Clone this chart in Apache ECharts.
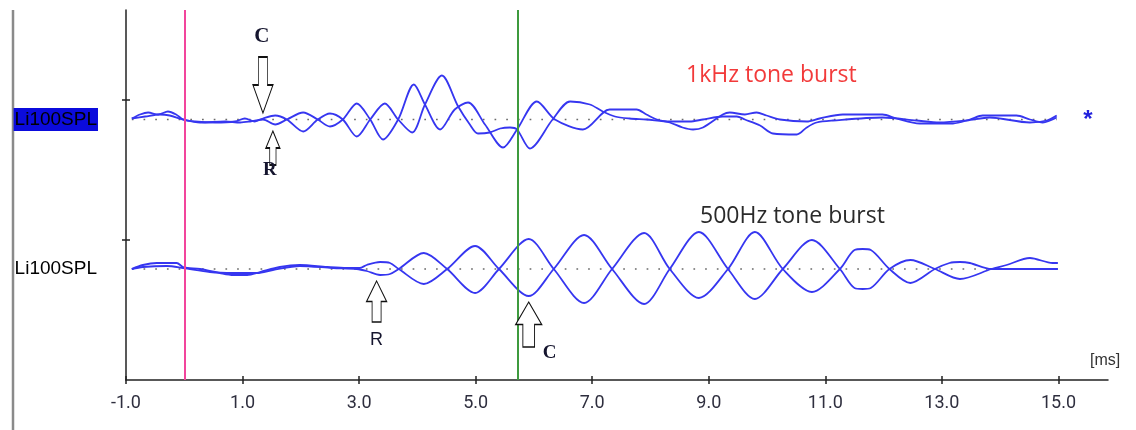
<!DOCTYPE html>
<html>
<head>
<meta charset="utf-8">
<title>tone burst</title>
<script src="https://cdn.jsdelivr.net/npm/echarts@6/dist/echarts.min.js"></script>
<style>
  html, body { margin: 0; padding: 0; background: #fff; }
  #chart { width: 1136px; height: 430px; }
</style>
</head>
<body>
<div id="chart"></div>
<script>
// x 轴刻度 (ms)
const xTicks = [-1, 1, 3, 5, 7, 9, 11, 13, 15];
const markerTimes = [0, 5.72]; // 粉线 / 绿线
const channelNames = ['Li100SPL', 'Li100SPL'];
const burstNames = ['1kHz tone burst', '500Hz tone burst'];

// 1kHz 两条曲线 [ms, 幅值]
const k1TraceA = [
  [-0.90, 1], [-0.76, 5], [-0.62, 7], [-0.45, 5], [-0.28, 8], [-0.14, 5], [-0.02, 0],
  [0.18, -2], [0.53, -3], [0.87, -2], [1.04, 1], [1.21, -2], [1.35, 1], [1.56, 4],
  [1.76, 0], [2.04, -12], [2.29, 0], [2.50, 6], [2.72, 0], [2.96, -17], [3.19, 0],
  [3.44, 16], [3.67, 0], [3.91, -13], [4.13, 15], [4.42, 44], [4.70, 13], [4.90, -5],
  [5.04, -14], [5.24, -13], [5.42, -9], [5.59, -8], [5.71, -10], [5.93, -29], [6.32, 0],
  [6.62, 18], [6.96, 15], [7.18, 8], [7.39, 3], [7.64, 1], [7.93, 0], [8.33, -2],
  [8.67, -2], [8.90, 0], [9.24, 3], [9.48, 3], [9.62, 0], [9.88, -6], [10.10, -14],
  [10.51, -15], [10.68, -8], [10.85, -3], [11.13, -1], [11.98, 2], [12.56, -1],
  [12.96, -3], [13.43, -1], [13.82, 2], [14.51, -3], [14.80, -1], [14.97, 4]
];
const k1TraceB = [
  [-0.90, 1], [-0.67, 3], [-0.42, 5], [-0.25, 4], [-0.02, 0], [0.27, -3], [0.70, -2],
  [0.96, -3], [1.13, -2], [1.35, 0], [1.56, -5], [1.76, 0], [2.04, 7], [2.29, 0],
  [2.50, -7], [2.72, 0], [2.96, 16], [3.19, 0], [3.41, -20], [3.67, 0], [3.94, 35],
  [4.13, 15], [4.39, -10], [4.64, 10], [4.87, 17], [5.16, -5], [5.47, -28], [5.71, -10],
  [6.05, 18], [6.36, 0], [6.84, -10], [7.30, 10], [7.76, 10], [7.93, 5], [8.11, 0],
  [8.33, -3], [8.55, -8], [8.73, -10], [8.90, -8], [9.24, 5], [9.36, 7], [9.62, 5],
  [9.82, 7], [9.99, 4], [10.22, 0], [10.68, -2], [10.90, 1], [11.30, 5], [11.98, 5],
  [12.22, 1], [12.62, -4], [13.19, -4], [13.48, 0], [13.70, 4], [14.28, 4], [14.51, 0],
  [14.73, -3], [14.97, 2]
];

// 500Hz 两条曲线 [ms, 幅值]
const h500TraceA = [
  [-0.90, 0], [-0.71, 4], [-0.47, 6], [-0.13, 6], [-0.02, 2], [0.27, 0], [0.61, -4],
  [0.84, -6], [1.08, -6], [1.30, -3], [1.64, 2], [1.98, 4], [2.45, 2], [2.79, 1],
  [3.01, 1], [3.13, 4], [3.36, 7], [3.53, 6], [3.68, 0], [4.11, -15], [4.51, 0],
  [4.99, 23], [5.40, 0], [5.91, -27], [6.34, 0], [6.86, 34], [7.34, 0], [7.89, -35],
  [8.33, 0], [8.83, 37], [9.33, 0], [9.79, -30], [10.27, 0], [10.77, 29], [11.25, 0],
  [11.50, -19], [11.64, -20], [11.78, -19], [12.10, 0], [12.46, 9], [12.88, 0],
  [13.31, -10], [13.85, 0], [14.11, 4], [14.51, 11], [14.90, 6], [14.99, 6]
];
const h500TraceB = [
  [-0.90, 0], [-0.71, 2], [-0.30, 3], [-0.02, 1], [0.44, -3], [0.84, -4], [1.25, -4],
  [1.52, -1], [1.98, 3], [2.55, 1], [2.96, 0], [3.13, -2], [3.36, -6], [3.53, -5],
  [3.68, 0], [4.11, 16], [4.51, 0], [4.99, -24], [5.40, 0], [5.91, 30], [6.34, 0],
  [6.86, -34], [7.34, 0], [7.89, 36], [8.33, 0], [8.83, -29], [9.33, 0], [9.79, 37],
  [10.27, 0], [10.77, -23], [11.25, 0], [11.50, 19], [11.64, 20], [11.78, 19], [12.10, 0],
  [12.46, -14], [12.88, 0], [13.13, 6], [13.31, 7], [13.48, 6], [13.85, 0], [14.11, 0],
  [14.51, 0], [14.99, 0]
];

const traceColor = '#3636f0';
const arrowUp = 'path://M10,0 L20,10 L14.5,10 L14.5,20 L5.5,20 L5.5,10 L0,10 Z';
const arrowDown = 'path://M5.5,0 L14.5,0 L14.5,10 L20,10 L10,20 L0,10 L5.5,10 Z';
const arrowStyle = { color: '#fff', borderColor: '#111', borderWidth: 1.2 };

function letter(text, coord, font) {
  return {
    coord: coord,
    symbol: 'circle',
    symbolSize: 0,
    label: {
      show: true,
      position: 'inside',
      formatter: text,
      color: '#15152e',
      fontFamily: font.family,
      fontWeight: font.weight,
      fontSize: font.size
    }
  };
}

function traceSeries(data, yIdx, marks) {
  return {
    type: 'line',
    data: data,
    yAxisIndex: yIdx,
    showSymbol: false,
    smooth: 0.3,
    silent: true,
    lineStyle: { color: traceColor, width: 1.8 },
    markPoint: marks ? { silent: true, data: marks } : undefined,
    z: 3
  };
}

function baseline(trace, yIdx) {
  const first = trace[0][0];
  const last = trace[trace.length - 1][0];
  return {
    type: 'line',
    data: [[first, 0], [last, 0]],
    yAxisIndex: yIdx,
    showSymbol: false,
    silent: true,
    lineStyle: { color: '#6a6a6a', width: 1.7, type: [1.7, 10] },
    z: 1
  };
}

const serif = { family: 'Liberation Serif', weight: 'bold', size: 21 };
const serifSm = { family: 'Liberation Serif', weight: 'bold', size: 19 };
const sans = { family: 'Liberation Sans', weight: 'normal', size: 18 };

const myChart = echarts.init(document.getElementById('chart'), null, { renderer: 'canvas' });
const chartOption = {
  animation: false,
  grid: { left: 126, right: 28, top: 10, bottom: 50, outerBoundsMode: 'none', containLabel: false },
  xAxis: [{
    type: 'value',
    min: -1,
    max: 15.85,
    axisLine: { onZero: false, lineStyle: { color: '#222', width: 1.5 } },
    axisTick: { customValues: xTicks, length: 4, lineStyle: { color: '#222', width: 1.5 } },
    axisLabel: {
      customValues: xTicks,
      formatter: v => v.toFixed(1),
      margin: 14,
      color: '#2e2e3e',
      fontFamily: 'Roboto',
      fontSize: 18
    },
    splitLine: { show: false }
  }, {
    // 刻度向内的一半
    type: 'value',
    position: 'bottom',
    min: -1,
    max: 15.85,
    axisLine: { show: false, onZero: false },
    axisTick: { customValues: xTicks, inside: true, length: 4, lineStyle: { color: '#222', width: 1.5 } },
    axisLabel: { show: false },
    splitLine: { show: false }
  }],
  yAxis: [{
    // 上通道
    type: 'value',
    position: 'left',
    min: -260.5,
    max: 109.5,
    axisLine: { show: true, onZero: false, lineStyle: { color: '#222', width: 1.5 } },
    axisTick: { customValues: [19.5, -120.5], length: 4, lineStyle: { color: '#222', width: 1.5 } },
    axisLabel: {
      customValues: [0],
      formatter: () => channelNames[0],
      margin: 28,
      color: '#000',
      fontFamily: 'Liberation Sans',
      fontSize: 19,
      backgroundColor: '#0b0bdc',
      padding: [2, 1, 2, 1]
    },
    splitLine: { show: false }
  }, {
    // 下通道
    type: 'value',
    position: 'left',
    offset: 0,
    min: -111,
    max: 259,
    axisLine: { show: false, onZero: false },
    axisTick: { customValues: [169, 29], inside: true, length: 4, lineStyle: { color: '#222', width: 1.5 } },
    axisLabel: {
      customValues: [0],
      formatter: () => channelNames[1],
      margin: 29,
      color: '#000',
      fontFamily: 'Liberation Sans',
      fontSize: 19
    },
    splitLine: { show: false }
  }],
  series: [
    Object.assign(baseline(k1TraceA, 0), {
      markLine: {
        silent: true,
        symbol: 'none',
        label: { show: false },
        data: [
          { xAxis: markerTimes[0], lineStyle: { color: '#f2459c', width: 2, type: 'solid' } },
          { xAxis: markerTimes[1], lineStyle: { color: '#3e9a3e', width: 2, type: 'solid' } }
        ]
      }
    }),
    baseline(h500TraceA, 1),
    traceSeries(k1TraceA, 0, [
      { coord: [1.35, 6.5], symbol: arrowDown, symbolSize: [20, 56], symbolOffset: [0, -28], itemStyle: arrowStyle, label: { show: false } },
      { coord: [1.52, -11.5], symbol: arrowUp, symbolSize: [14, 34], symbolOffset: [0, 17], itemStyle: arrowStyle, label: { show: false } },
      letter('C', [1.33, 82.5], serif),
      letter('R', [1.47, -50.5], serifSm)
    ]),
    traceSeries(k1TraceB, 0),
    traceSeries(h500TraceA, 1, [
      { coord: [3.30, -12], symbol: arrowUp, symbolSize: [20, 41], symbolOffset: [0, 20.5], itemStyle: arrowStyle, label: { show: false } },
      { coord: [5.91, -33], symbol: arrowUp, symbolSize: [26, 45], symbolOffset: [0, 22.5], itemStyle: arrowStyle, label: { show: false } },
      letter('R', [3.30, -71], sans),
      letter('C', [6.27, -84], serifSm)
    ]),
    traceSeries(h500TraceB, 1)
  ],
  graphic: [
    { type: 'line', shape: { x1: 13, y1: 10, x2: 13, y2: 430 }, style: { stroke: '#8a8a8a', lineWidth: 2.5 }, silent: true },
    { type: 'text', x: 686, y: 75, style: { text: burstNames[0], fill: '#f23a3a', font: '23px "Open Sans"', verticalAlign: 'middle' }, silent: true },
    { type: 'text', x: 700, y: 216, style: { text: burstNames[1], fill: '#2a2a2a', font: '23px "Open Sans"', verticalAlign: 'middle' }, silent: true },
    { type: 'text', x: 1088, y: 120, style: { text: '*', fill: '#2222dd', font: 'bold 24px "Liberation Sans"', align: 'center', verticalAlign: 'middle' }, silent: true },
    { type: 'text', x: 1090, y: 361, style: { text: '[ms]', fill: '#333', font: '16px "Liberation Sans"', verticalAlign: 'middle' }, silent: true }
  ]
};
myChart.setOption(chartOption);
</script>
</body>
</html>
